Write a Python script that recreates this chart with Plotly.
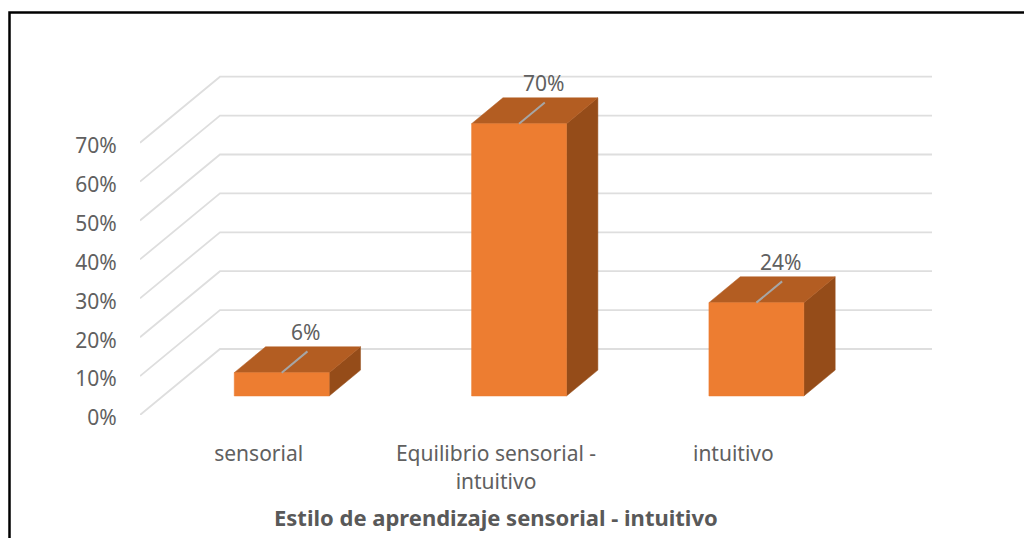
"""3D-look column chart, drawn on a plain cartesian axis with a small projection."""

import plotly.graph_objects as go

categories = ["sensorial", "Equilibrio sensorial -<br>intuitivo", "intuitivo"]
values = [0.06, 0.70, 0.24]
value_labels = ["6%", "70%", "24%"]
y_ticks = [0.0, 0.1, 0.2, 0.3, 0.4, 0.5, 0.6, 0.7]
x_title = "Estilo de aprendizaje sensorial - intuitivo"

FRONT = "#ED7D31"
TOP = "#B35D22"
SIDE = "#954C19"
GRID = "#DEDEDE"
TEXT = "#606060"
FONT = "Noto Sans, sans-serif"

WIDTH, HEIGHT = 1024, 538
MARGIN = dict(l=140, r=92, t=67, b=123, autoexpand=False)

# floor depth expressed in axis units (one depth unit = front wall to back wall)
DEPTH_X = 0.337
DEPTH_Y = 0.1697
BAR_HALF = 0.2
BAR_FRONT = 0.288
BAR_BACK = 0.68
LEADER_END = 0.61
LABEL_DEPTH = 0.59


def project(x, v, depth):
    return x + depth * DEPTH_X, v + depth * DEPTH_Y


def face(points, color):
    xs, ys = zip(*[project(*p) for p in points + points[:1]])
    return go.Scatter(
        x=xs, y=ys, mode="lines", fill="toself", fillcolor=color,
        line=dict(color=color, width=0.5), hoverinfo="skip", showlegend=False,
    )


fig = go.Figure()

# side wall and back wall grid lines
for tick in y_ticks:
    xs, ys = zip(*[project(-0.5, tick, 0), project(-0.5, tick, 1), project(2.5, tick, 1)])
    fig.add_trace(go.Scatter(
        x=xs, y=ys, mode="lines", line=dict(color=GRID, width=1.8), cliponaxis=False,
        hoverinfo="skip", showlegend=False,
    ))

for i, v in enumerate(values):
    left, right = i - BAR_HALF, i + BAR_HALF
    fig.add_trace(face(
        [(right, 0, BAR_FRONT), (right, 0, BAR_BACK), (right, v, BAR_BACK), (right, v, BAR_FRONT)],
        SIDE,
    ))
    fig.add_trace(face(
        [(left, v, BAR_FRONT), (right, v, BAR_FRONT), (right, v, BAR_BACK), (left, v, BAR_BACK)],
        TOP,
    ))
    fig.add_trace(face(
        [(left, 0, BAR_FRONT), (right, 0, BAR_FRONT), (right, v, BAR_FRONT), (left, v, BAR_FRONT)],
        FRONT,
    ))
    # leader line and data label
    xs, ys = zip(*[project(i, v, BAR_FRONT), project(i, v, LEADER_END)])
    fig.add_trace(go.Scatter(
        x=xs, y=ys, mode="lines", line=dict(color="#A6A6A6", width=2),
        hoverinfo="skip", showlegend=False,
    ))
    label_x, label_y = project(i, v, LABEL_DEPTH)
    fig.add_annotation(
        x=label_x, y=label_y, text=value_labels[i], showarrow=False, yshift=21,
        font=dict(size=21, color=TEXT, family=FONT),
    )

# axis title sits under the middle category, not under the plot area
fig.add_annotation(
    x=1, xref="x", y=0, yref="paper", yanchor="middle", yshift=-102,
    text=f"<b>{x_title}</b>", showarrow=False,
    font=dict(size=22, color="#595959", family=FONT),
)

plot_w = WIDTH - MARGIN["l"] - MARGIN["r"]
plot_h = HEIGHT - MARGIN["t"] - MARGIN["b"]

# black frame of the pasted picture, runs off the right and bottom edges
fig.add_shape(
    type="rect", xref="paper", yref="paper", layer="above",
    x0=(9.5 - MARGIN["l"]) / plot_w, x1=(WIDTH + 10 - MARGIN["l"]) / plot_w,
    y0=-(HEIGHT + 10 - MARGIN["t"] - plot_h) / plot_h, y1=(HEIGHT - 12.5 - MARGIN["b"]) / plot_h,
    line=dict(color="#000000", width=2.5),
)

fig.update_layout(
    width=WIDTH,
    height=HEIGHT,
    margin=MARGIN,
    paper_bgcolor="#ffffff",
    plot_bgcolor="#ffffff",
    font=dict(family=FONT, size=21, color=TEXT),
    showlegend=False,
    xaxis=dict(
        range=[-0.5, 2.5 + DEPTH_X],
        tickvals=[0, 1, 2],
        ticktext=categories,
        ticks="outside",
        ticklen=20,
        tickcolor="rgba(0,0,0,0)",
        showgrid=False,
        zeroline=False,
        showline=False,
    ),
    yaxis=dict(
        range=[0, 348 / 389],
        tickvals=y_ticks,
        tickformat=".0%",
        ticks="outside",
        ticklen=18,
        tickcolor="rgba(0,0,0,0)",
        ticklabelshift=3,
        showgrid=False,
        zeroline=False,
        showline=False,
    ),
)

# the page's default body margin would push the frame off by 8px
fig.write_html(
    "out.html",
    config=dict(displayModeBar=False),
    post_script="document.body.style.margin = '0';",
)
